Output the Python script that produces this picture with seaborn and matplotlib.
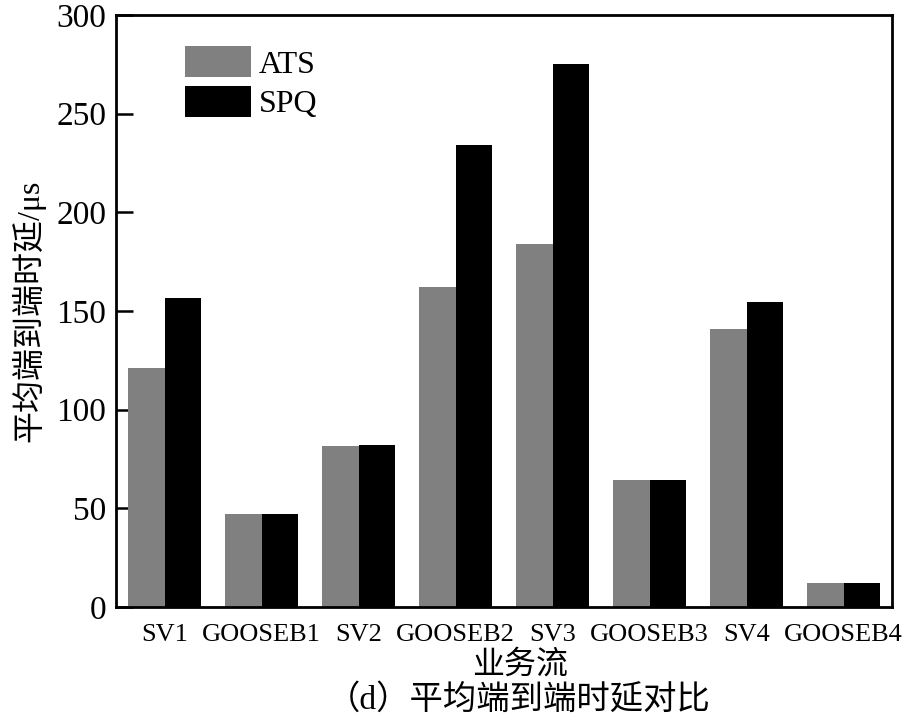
import numpy as np
import pandas as pd
import matplotlib
matplotlib.use("Agg")
import matplotlib.pyplot as plt
import seaborn as sns

# -----------------------------
# DATA
# -----------------------------
flows = ["SV1", "GOOSEB1", "SV2", "GOOSEB2", "SV3", "GOOSEB3", "SV4", "GOOSEB4"]
ats = [121, 47, 81.5, 162, 184, 64.5, 141, 12]
spq = [156.5, 47, 82, 234, 275, 64.5, 154.5, 12]
methods = ["ATS", "SPQ"]
y_ticks = [0, 50, 100, 150, 200, 250, 300]

df = pd.DataFrame({
    "flow": flows * 2,
    "delay": ats + spq,
    "method": ["ATS"] * len(flows) + ["SPQ"] * len(flows),
})

# -----------------------------
# STYLE
# -----------------------------
sns.set_style("ticks")
fonts = ["Liberation Serif", "Noto Sans CJK SC", "DejaVu Sans"]
plt.rcParams["font.family"] = fonts
plt.rcParams["axes.unicode_minus"] = False
plt.rcParams["text.color"] = "black"
plt.rcParams["axes.labelcolor"] = "black"
plt.rcParams["xtick.color"] = "black"
plt.rcParams["ytick.color"] = "black"

fig = plt.figure(figsize=(9.07, 7.19), dpi=100)
ax = fig.add_axes([0.128, 0.156, 0.8555, 0.823])

sns.barplot(
    data=df, x="flow", y="delay", hue="method",
    hue_order=methods, order=flows,
    palette=["#808080", "#000000"],
    width=0.75, saturation=1, linewidth=0, ax=ax,
)

ax.set_ylim(0, 300)
ax.set_yticks(y_ticks)
ax.set_xlim(-0.5, len(flows) - 0.5)

for s in ax.spines.values():
    s.set_linewidth(2)
    s.set_color("black")

ax.tick_params(axis="y", direction="in", length=12, width=1.8, pad=7, labelsize=24)
ax.tick_params(axis="x", length=0, pad=12, labelsize=19)

ax.set_xlabel("业务流", fontsize=23, labelpad=4)
ax.xaxis.label.set_x(0.52)
ax.set_ylabel("平均端到端时延/μs", fontsize=23, labelpad=8)

leg = ax.legend(
    loc="upper left", bbox_to_anchor=(0.0725, 0.9686),
    frameon=False, fontsize=23,
    handlelength=2.05, handleheight=1.1, handletextpad=0.25,
    labelspacing=0.2, borderaxespad=0,
)

fig.text(0.572, 0.027, "（d）平均端到端时延对比", ha="center", va="center", fontsize=24)

fig.savefig("out.png", dpi=100)
